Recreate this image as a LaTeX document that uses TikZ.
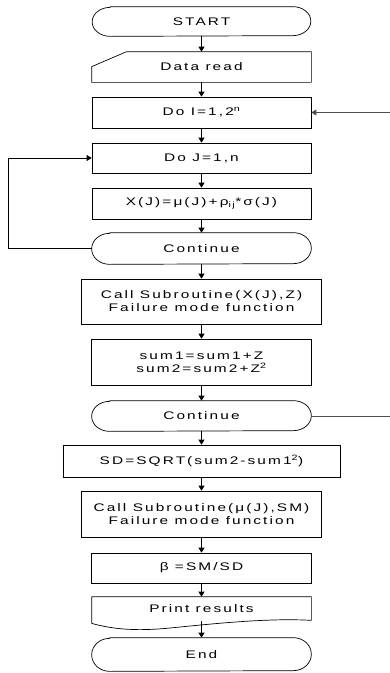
\documentclass[tikz,border=0pt]{standalone}
\usepackage{fontspec}
\setmainfont{Liberation Sans}[FakeStretch=1.4,LetterSpace=19]
\usetikzlibrary{arrows.meta,calc}
\begin{document}
\begin{tikzpicture}[x=1pt,y=-1pt,line width=0.7pt,
  font=\fontsize{11}{13}\selectfont,
  procbox/.style={draw,rectangle,inner sep=0pt,align=center},
  plainbox/.style={rectangle,inner sep=0pt,align=center},
  arr/.style={-{Triangle[width=6pt,length=5pt]}},
  feed/.style={draw=black!70,line width=0.9pt}]
\useasboundingbox (0,0) rectangle (390,673);

% terminals
\node[plainbox,minimum width=218pt,minimum height=29pt] (start) at (201.5,21.5) {START};
\node[plainbox,minimum width=219pt,minimum height=31pt] (cont1) at (201.5,248.5) {Continue};
\node[plainbox,minimum width=219pt,minimum height=30pt] (cont2) at (201.5,416) {Continue};
\node[plainbox,minimum width=219pt,minimum height=33pt] (stop) at (201.5,654.5) {End};
\foreach \n/\rad in {start/14.5,cont1/15.5,cont2/15,stop/16.5}
  \draw ([xshift=18pt]\n.north west) -- ([xshift=-18pt]\n.north east)
        arc[start angle=90,end angle=-90,x radius=18pt,y radius=\rad pt]
        -- ([xshift=18pt]\n.south west)
        arc[start angle=270,end angle=90,x radius=18pt,y radius=\rad pt] -- cycle;

% manual input
\node[plainbox,minimum width=219pt,minimum height=30pt] (dread) at (201.5,67) {Data read};
\draw (dread.south west) -- ($(dread.north west)+(0,15)$) -- ([xshift=35pt]dread.north west)
      -- (dread.north east) -- (dread.south east) -- cycle;

% process boxes
\node[procbox,minimum width=219pt,minimum height=31pt] (doi) at (201.5,112.5) {Do I=1,2\textsuperscript{n}};
\node[procbox,minimum width=219pt,minimum height=30pt] (doj) at (201.5,158) {Do J=1,n};
\node[procbox,minimum width=219pt,minimum height=31pt] (xj) at (201.5,203.5) {X(J)=μ(J)+ρ\textsubscript{ij}*σ(J)};
\node[procbox,minimum width=240pt,minimum height=45pt] (call1) at (201.5,301.5) {Call Subroutine(X(J),Z)\\Failure mode function};
\node[procbox,minimum width=220pt,minimum height=46pt] (sums) at (201.5,362) {sum1=sum1+Z\\sum2=sum2+Z\textsuperscript{2}};
\node[procbox,minimum width=277pt,minimum height=32pt] (sd) at (201.5,461) {SD=SQRT(sum2-sum1\textsuperscript{2})};
\node[procbox,minimum width=240pt,minimum height=46pt] (call2) at (201.5,514) {Call Subroutine(μ(J),SM)\\Failure mode function};
\node[procbox,minimum width=220pt,minimum height=30pt] (beta) at (201.5,568) {β =SM/SD};

% document shape
\node[plainbox,minimum width=219pt,minimum height=24pt] (print) at (201.5,609) {Print results};
\draw (print.north west) -- (print.north east) -- ($(print.south east)+(0,-1)$)
      .. controls (270,618) and (220,623) .. (170,628)
      .. controls (140,631) and (115,630) .. ($(print.south west)+(0,2)$) -- cycle;

% main flow
\draw[arr] (start.south) -- (dread.north);
\draw[arr] (dread.south) -- (doi.north);
\draw[arr] (doi.south) -- (doj.north);
\draw[arr] (doj.south) -- (xj.north);
\draw[arr] (xj.south) -- (cont1.north);
\draw[arr] (cont1.south) -- (call1.north);
\draw[arr] (call1.south) -- (sums.north);
\draw[arr] (sums.south) -- (cont2.north);
\draw[arr] (cont2.south) -- (sd.north);
\draw[arr] (sd.south) -- (call2.north);
\draw[arr] (call2.south) -- (beta.north);
\draw[arr] (beta.south) -- (print.north);
\draw[arr] (print.south) -- (stop.north);

% inner loop
\draw[arr] (cont1.west) -- ++(-83,0) |- (doj.west);

% outer loop ends
\coordinate (feedI) at (390,112.5);
\coordinate (exitC) at (390,416);
\draw[arr,feed] (feedI) -- (doi.east);
\draw[feed] (cont2.east) -- (exitC);
\end{tikzpicture}
\end{document}
